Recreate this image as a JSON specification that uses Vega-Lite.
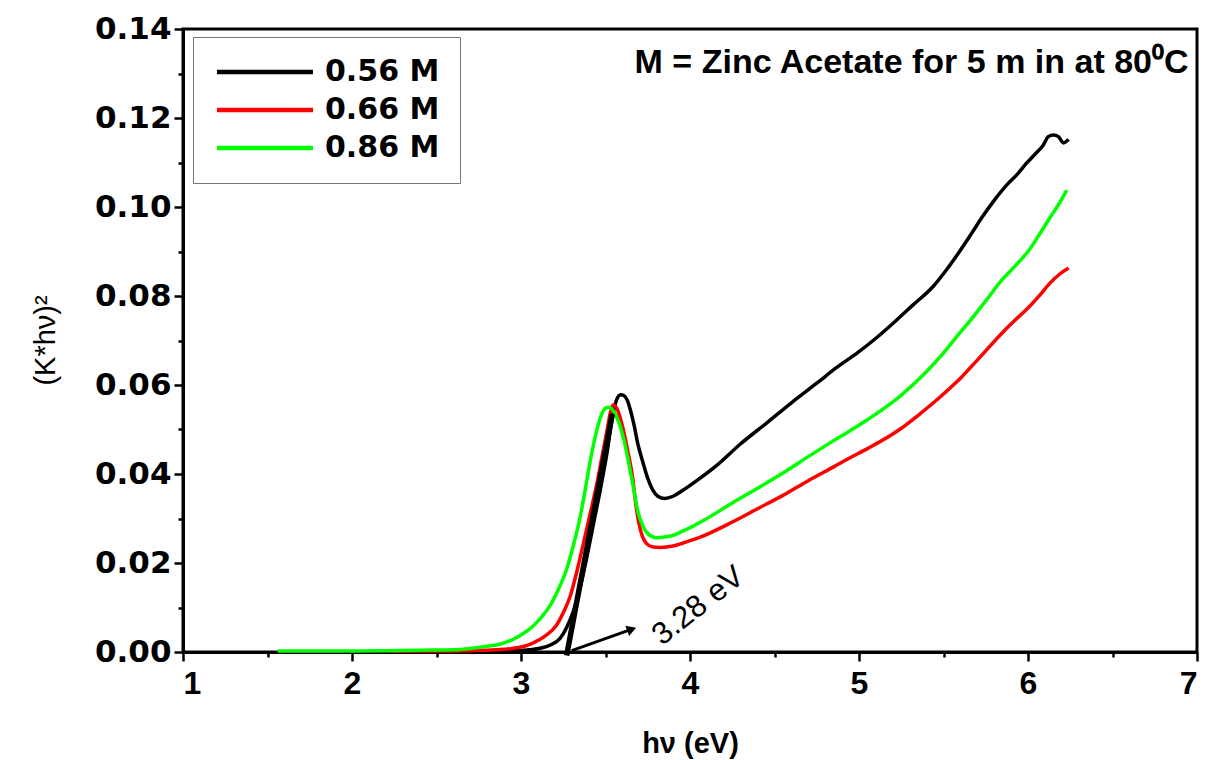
{
  "$schema": "https://vega.github.io/schema/vega-lite/v6.json",
  "width": 1014,
  "height": 623,
  "autosize": {"type": "none"},
  "padding": {"left": 183, "top": 29, "right": 10, "bottom": 108},
  "background": "white",
  "config": {
    "view": {"stroke": "#000", "strokeWidth": 3},
    "axis": {"domainColor": "#000", "domainWidth": 3, "tickColor": "#000", "tickWidth": 2.5, "labelColor": "#000", "titleColor": "#000", "grid": false}
  },
  "datasets": {
    "curves": [
      {"x": 2.2, "y": 0.0001, "c": "0.56 M"},
      {"x": 2.5, "y": 0.0001, "c": "0.56 M"},
      {"x": 2.8, "y": 0.0002, "c": "0.56 M"},
      {"x": 2.95, "y": 0.0003, "c": "0.56 M"},
      {"x": 3.05, "y": 0.0005, "c": "0.56 M"},
      {"x": 3.12, "y": 0.0009, "c": "0.56 M"},
      {"x": 3.18, "y": 0.0017, "c": "0.56 M"},
      {"x": 3.23, "y": 0.003, "c": "0.56 M"},
      {"x": 3.27, "y": 0.0055, "c": "0.56 M"},
      {"x": 3.31, "y": 0.0092, "c": "0.56 M"},
      {"x": 3.35, "y": 0.0145, "c": "0.56 M"},
      {"x": 3.39, "y": 0.0214, "c": "0.56 M"},
      {"x": 3.43, "y": 0.029, "c": "0.56 M"},
      {"x": 3.47, "y": 0.0366, "c": "0.56 M"},
      {"x": 3.51, "y": 0.045, "c": "0.56 M"},
      {"x": 3.54, "y": 0.0525, "c": "0.56 M"},
      {"x": 3.565, "y": 0.0566, "c": "0.56 M"},
      {"x": 3.59, "y": 0.0578, "c": "0.56 M"},
      {"x": 3.61, "y": 0.0576, "c": "0.56 M"},
      {"x": 3.63, "y": 0.0565, "c": "0.56 M"},
      {"x": 3.65, "y": 0.054, "c": "0.56 M"},
      {"x": 3.67, "y": 0.0508, "c": "0.56 M"},
      {"x": 3.69, "y": 0.047, "c": "0.56 M"},
      {"x": 3.72, "y": 0.0428, "c": "0.56 M"},
      {"x": 3.75, "y": 0.039, "c": "0.56 M"},
      {"x": 3.78, "y": 0.0364, "c": "0.56 M"},
      {"x": 3.81, "y": 0.035, "c": "0.56 M"},
      {"x": 3.85, "y": 0.0345, "c": "0.56 M"},
      {"x": 3.9, "y": 0.035, "c": "0.56 M"},
      {"x": 3.96, "y": 0.0364, "c": "0.56 M"},
      {"x": 4.05, "y": 0.0388, "c": "0.56 M"},
      {"x": 4.16, "y": 0.042, "c": "0.56 M"},
      {"x": 4.3, "y": 0.0468, "c": "0.56 M"},
      {"x": 4.455, "y": 0.0515, "c": "0.56 M"},
      {"x": 4.6, "y": 0.056, "c": "0.56 M"},
      {"x": 4.75, "y": 0.0604, "c": "0.56 M"},
      {"x": 4.87, "y": 0.064, "c": "0.56 M"},
      {"x": 4.99, "y": 0.0672, "c": "0.56 M"},
      {"x": 5.1, "y": 0.0705, "c": "0.56 M"},
      {"x": 5.22, "y": 0.0745, "c": "0.56 M"},
      {"x": 5.32, "y": 0.078, "c": "0.56 M"},
      {"x": 5.44, "y": 0.0822, "c": "0.56 M"},
      {"x": 5.52, "y": 0.086, "c": "0.56 M"},
      {"x": 5.6, "y": 0.0903, "c": "0.56 M"},
      {"x": 5.67, "y": 0.0943, "c": "0.56 M"},
      {"x": 5.73, "y": 0.0978, "c": "0.56 M"},
      {"x": 5.8, "y": 0.1015, "c": "0.56 M"},
      {"x": 5.88, "y": 0.1052, "c": "0.56 M"},
      {"x": 5.94, "y": 0.1075, "c": "0.56 M"},
      {"x": 5.99, "y": 0.1098, "c": "0.56 M"},
      {"x": 6.04, "y": 0.1118, "c": "0.56 M"},
      {"x": 6.09, "y": 0.1139, "c": "0.56 M"},
      {"x": 6.12, "y": 0.1158, "c": "0.56 M"},
      {"x": 6.15, "y": 0.1162, "c": "0.56 M"},
      {"x": 6.18, "y": 0.1158, "c": "0.56 M"},
      {"x": 6.21, "y": 0.1144, "c": "0.56 M"},
      {"x": 6.24, "y": 0.1152, "c": "0.56 M"},

      {"x": 2.22, "y": 0.0002, "c": "0.66 M"},
      {"x": 2.5, "y": 0.0002, "c": "0.66 M"},
      {"x": 2.7, "y": 0.0003, "c": "0.66 M"},
      {"x": 2.85, "y": 0.0005, "c": "0.66 M"},
      {"x": 2.95, "y": 0.0008, "c": "0.66 M"},
      {"x": 3.02, "y": 0.0013, "c": "0.66 M"},
      {"x": 3.07, "y": 0.002, "c": "0.66 M"},
      {"x": 3.14, "y": 0.0035, "c": "0.66 M"},
      {"x": 3.21, "y": 0.006, "c": "0.66 M"},
      {"x": 3.25, "y": 0.0088, "c": "0.66 M"},
      {"x": 3.29, "y": 0.0124, "c": "0.66 M"},
      {"x": 3.33, "y": 0.018, "c": "0.66 M"},
      {"x": 3.37, "y": 0.0245, "c": "0.66 M"},
      {"x": 3.41, "y": 0.0312, "c": "0.66 M"},
      {"x": 3.45, "y": 0.038, "c": "0.66 M"},
      {"x": 3.48, "y": 0.044, "c": "0.66 M"},
      {"x": 3.51, "y": 0.0499, "c": "0.66 M"},
      {"x": 3.53, "y": 0.054, "c": "0.66 M"},
      {"x": 3.545, "y": 0.0555, "c": "0.66 M"},
      {"x": 3.57, "y": 0.0545, "c": "0.66 M"},
      {"x": 3.6, "y": 0.0508, "c": "0.66 M"},
      {"x": 3.63, "y": 0.0455, "c": "0.66 M"},
      {"x": 3.66, "y": 0.0393, "c": "0.66 M"},
      {"x": 3.68, "y": 0.033, "c": "0.66 M"},
      {"x": 3.7, "y": 0.0285, "c": "0.66 M"},
      {"x": 3.72, "y": 0.0258, "c": "0.66 M"},
      {"x": 3.745, "y": 0.0243, "c": "0.66 M"},
      {"x": 3.78, "y": 0.0236, "c": "0.66 M"},
      {"x": 3.82, "y": 0.0235, "c": "0.66 M"},
      {"x": 3.9, "y": 0.0238, "c": "0.66 M"},
      {"x": 3.96, "y": 0.0245, "c": "0.66 M"},
      {"x": 4.06, "y": 0.0258, "c": "0.66 M"},
      {"x": 4.25, "y": 0.0292, "c": "0.66 M"},
      {"x": 4.4, "y": 0.0322, "c": "0.66 M"},
      {"x": 4.55, "y": 0.0352, "c": "0.66 M"},
      {"x": 4.7, "y": 0.0385, "c": "0.66 M"},
      {"x": 4.85, "y": 0.0416, "c": "0.66 M"},
      {"x": 4.95, "y": 0.0437, "c": "0.66 M"},
      {"x": 5.05, "y": 0.0457, "c": "0.66 M"},
      {"x": 5.24, "y": 0.05, "c": "0.66 M"},
      {"x": 5.35, "y": 0.0532, "c": "0.66 M"},
      {"x": 5.48, "y": 0.0573, "c": "0.66 M"},
      {"x": 5.6, "y": 0.0615, "c": "0.66 M"},
      {"x": 5.7, "y": 0.0656, "c": "0.66 M"},
      {"x": 5.85, "y": 0.0718, "c": "0.66 M"},
      {"x": 5.93, "y": 0.0748, "c": "0.66 M"},
      {"x": 6.01, "y": 0.0777, "c": "0.66 M"},
      {"x": 6.07, "y": 0.0802, "c": "0.66 M"},
      {"x": 6.13, "y": 0.0829, "c": "0.66 M"},
      {"x": 6.19, "y": 0.085, "c": "0.66 M"},
      {"x": 6.24, "y": 0.0863, "c": "0.66 M"},

      {"x": 1.56, "y": 0.0002, "c": "0.86 M"},
      {"x": 1.8, "y": 0.0002, "c": "0.86 M"},
      {"x": 2.0, "y": 0.0002, "c": "0.86 M"},
      {"x": 2.2, "y": 0.0003, "c": "0.86 M"},
      {"x": 2.4, "y": 0.0004, "c": "0.86 M"},
      {"x": 2.6, "y": 0.0005, "c": "0.86 M"},
      {"x": 2.7, "y": 0.0008, "c": "0.86 M"},
      {"x": 2.8, "y": 0.0013, "c": "0.86 M"},
      {"x": 2.88, "y": 0.0018, "c": "0.86 M"},
      {"x": 2.95, "y": 0.0028, "c": "0.86 M"},
      {"x": 3.0, "y": 0.0038, "c": "0.86 M"},
      {"x": 3.07, "y": 0.0058, "c": "0.86 M"},
      {"x": 3.12, "y": 0.0078, "c": "0.86 M"},
      {"x": 3.17, "y": 0.0103, "c": "0.86 M"},
      {"x": 3.22, "y": 0.014, "c": "0.86 M"},
      {"x": 3.27, "y": 0.0186, "c": "0.86 M"},
      {"x": 3.31, "y": 0.024, "c": "0.86 M"},
      {"x": 3.35, "y": 0.0303, "c": "0.86 M"},
      {"x": 3.38, "y": 0.0365, "c": "0.86 M"},
      {"x": 3.41, "y": 0.043, "c": "0.86 M"},
      {"x": 3.44, "y": 0.0485, "c": "0.86 M"},
      {"x": 3.47, "y": 0.0527, "c": "0.86 M"},
      {"x": 3.5, "y": 0.0548, "c": "0.86 M"},
      {"x": 3.52, "y": 0.055, "c": "0.86 M"},
      {"x": 3.55, "y": 0.054, "c": "0.86 M"},
      {"x": 3.58, "y": 0.0515, "c": "0.86 M"},
      {"x": 3.61, "y": 0.0475, "c": "0.86 M"},
      {"x": 3.64, "y": 0.042, "c": "0.86 M"},
      {"x": 3.67, "y": 0.036, "c": "0.86 M"},
      {"x": 3.69, "y": 0.0318, "c": "0.86 M"},
      {"x": 3.72, "y": 0.0284, "c": "0.86 M"},
      {"x": 3.75, "y": 0.0266, "c": "0.86 M"},
      {"x": 3.8, "y": 0.0257, "c": "0.86 M"},
      {"x": 3.88, "y": 0.026, "c": "0.86 M"},
      {"x": 3.96, "y": 0.0272, "c": "0.86 M"},
      {"x": 4.1, "y": 0.03, "c": "0.86 M"},
      {"x": 4.25, "y": 0.0335, "c": "0.86 M"},
      {"x": 4.4, "y": 0.0368, "c": "0.86 M"},
      {"x": 4.55, "y": 0.0402, "c": "0.86 M"},
      {"x": 4.7, "y": 0.0439, "c": "0.86 M"},
      {"x": 4.85, "y": 0.0475, "c": "0.86 M"},
      {"x": 4.95, "y": 0.0498, "c": "0.86 M"},
      {"x": 5.05, "y": 0.0522, "c": "0.86 M"},
      {"x": 5.15, "y": 0.0548, "c": "0.86 M"},
      {"x": 5.24, "y": 0.0574, "c": "0.86 M"},
      {"x": 5.36, "y": 0.0615, "c": "0.86 M"},
      {"x": 5.48, "y": 0.0663, "c": "0.86 M"},
      {"x": 5.57, "y": 0.0705, "c": "0.86 M"},
      {"x": 5.66, "y": 0.0746, "c": "0.86 M"},
      {"x": 5.75, "y": 0.0789, "c": "0.86 M"},
      {"x": 5.83, "y": 0.0829, "c": "0.86 M"},
      {"x": 5.92, "y": 0.0866, "c": "0.86 M"},
      {"x": 6.01, "y": 0.0905, "c": "0.86 M"},
      {"x": 6.07, "y": 0.094, "c": "0.86 M"},
      {"x": 6.13, "y": 0.0976, "c": "0.86 M"},
      {"x": 6.18, "y": 0.1005, "c": "0.86 M"},
      {"x": 6.23, "y": 0.1038, "c": "0.86 M"}
    ],
    "tangent": [
      {"x": 3.27, "y": -0.0008},
      {"x": 3.54, "y": 0.0535}
    ],
    "arrow": [
      {"x": 3.3, "y": 0.0003},
      {"x": 3.64, "y": 0.0049}
    ],
    "arrowhead": [
      {"x": 3.655, "y": 0.0051}
    ],
    "gap": [
      {"x": 4.05, "y": 0.0103, "label": "3.28 eV"}
    ],
    "note": [
      {"x": 6.95, "y": 0.1324, "label": "M = Zinc Acetate for 5 m in at 80⁰C"}
    ]
  },
  "layer": [
    {
      "data": {"name": "curves"},
      "mark": {"type": "line", "strokeWidth": 3.5, "interpolate": "monotone"},
      "encoding": {
        "x": {
          "field": "x", "type": "quantitative",
          "scale": {"domain": [1, 7], "nice": false, "zero": false},
          "axis": {
            "orient": "bottom",
            "values": [1, 2, 3, 4, 5, 6, 7], "format": "d",
            "title": "hν (eV)",
            "labelFont": "Liberation Sans", "labelFontSize": 32, "labelFontWeight": "bold", "labelPadding": 7,
            "tickSize": 9,
            "titleFont": "Liberation Sans", "titleFontSize": 29, "titleFontWeight": "bold",
            "titleX": 507, "titleY": 91, "titleAlign": "center", "titleBaseline": "middle"
          }
        },
        "y": {
          "field": "y", "type": "quantitative",
          "scale": {"domain": [0, 0.14], "nice": false, "zero": false},
          "axis": {
            "orient": "left",
            "values": [0, 0.02, 0.04, 0.06, 0.08, 0.1, 0.12, 0.14], "format": ".2f",
            "title": "(K*hν)²",
            "labelFont": "DejaVu Sans", "labelFontSize": 31, "labelFontWeight": "bold", "labelPadding": 3,
            "tickSize": 9,
            "titleFont": "Liberation Sans", "titleFontSize": 29, "titleFontWeight": "normal",
            "titleX": -138, "titleY": 311, "titleAngle": 270, "titleAlign": "center", "titleBaseline": "middle"
          }
        },
        "color": {
          "field": "c", "type": "nominal",
          "scale": {"domain": ["0.56 M", "0.66 M", "0.86 M"], "range": ["#000000", "#ff0000", "#00ff00"]},
          "legend": {
            "orient": "none", "legendX": 10, "legendY": 8,
            "title": null,
            "symbolType": "M-4,0L4,0", "symbolSize": 576, "symbolStrokeWidth": 4.5,
            "symbolOffset": 37, "labelOffset": 45,
            "labelFont": "DejaVu Sans", "labelFontSize": 30, "labelFontWeight": "bold", "labelColor": "#000",
            "padding": 20, "rowPadding": 8,
            "strokeColor": "#777", "fillColor": "white"
          }
        }
      }
    },
    {
      "data": {"name": "tangent"},
      "mark": {"type": "line", "color": "#000", "strokeWidth": 5.5},
      "encoding": {
        "x": {
          "field": "x", "type": "quantitative",
          "scale": {"domain": [1, 7], "nice": false, "zero": false},
          "axis": {"orient": "bottom", "values": [1.5, 2.5, 3.5, 4.5, 5.5, 6.5], "labels": false, "title": null, "tickSize": 5, "domain": false}
        },
        "y": {
          "field": "y", "type": "quantitative",
          "scale": {"domain": [0, 0.14], "nice": false, "zero": false},
          "axis": {"orient": "left", "values": [0.01, 0.03, 0.05, 0.07, 0.09, 0.11, 0.13], "labels": false, "title": null, "tickSize": 5, "domain": false}
        }
      }
    },
    {
      "data": {"name": "arrow"},
      "mark": {"type": "line", "color": "#000", "strokeWidth": 3},
      "encoding": {
        "x": {"field": "x", "type": "quantitative", "scale": {"domain": [1, 7], "nice": false, "zero": false}, "axis": null},
        "y": {"field": "y", "type": "quantitative", "scale": {"domain": [0, 0.14], "nice": false, "zero": false}, "axis": null}
      }
    },
    {
      "data": {"name": "arrowhead"},
      "mark": {"type": "point", "shape": "triangle-right", "filled": true, "color": "#000", "size": 120, "angle": 340, "opacity": 1},
      "encoding": {
        "x": {"field": "x", "type": "quantitative", "scale": {"domain": [1, 7], "nice": false, "zero": false}, "axis": null},
        "y": {"field": "y", "type": "quantitative", "scale": {"domain": [0, 0.14], "nice": false, "zero": false}, "axis": null}
      }
    },
    {
      "data": {"name": "gap"},
      "mark": {"type": "text", "font": "Liberation Sans", "fontSize": 31, "angle": 322, "align": "center", "baseline": "middle", "color": "#000"},
      "encoding": {
        "x": {"field": "x", "type": "quantitative", "scale": {"domain": [1, 7], "nice": false, "zero": false}, "axis": null},
        "y": {"field": "y", "type": "quantitative", "scale": {"domain": [0, 0.14], "nice": false, "zero": false}, "axis": null},
        "text": {"field": "label"}
      }
    },
    {
      "data": {"name": "note"},
      "mark": {"type": "text", "font": "Liberation Sans", "fontSize": 34, "fontWeight": "bold", "align": "right", "baseline": "middle", "color": "#000"},
      "encoding": {
        "x": {"field": "x", "type": "quantitative", "scale": {"domain": [1, 7], "nice": false, "zero": false}, "axis": null},
        "y": {"field": "y", "type": "quantitative", "scale": {"domain": [0, 0.14], "nice": false, "zero": false}, "axis": null},
        "text": {"field": "label"}
      }
    }
  ],
  "resolve": {"axis": {"x": "independent", "y": "independent"}}
}
